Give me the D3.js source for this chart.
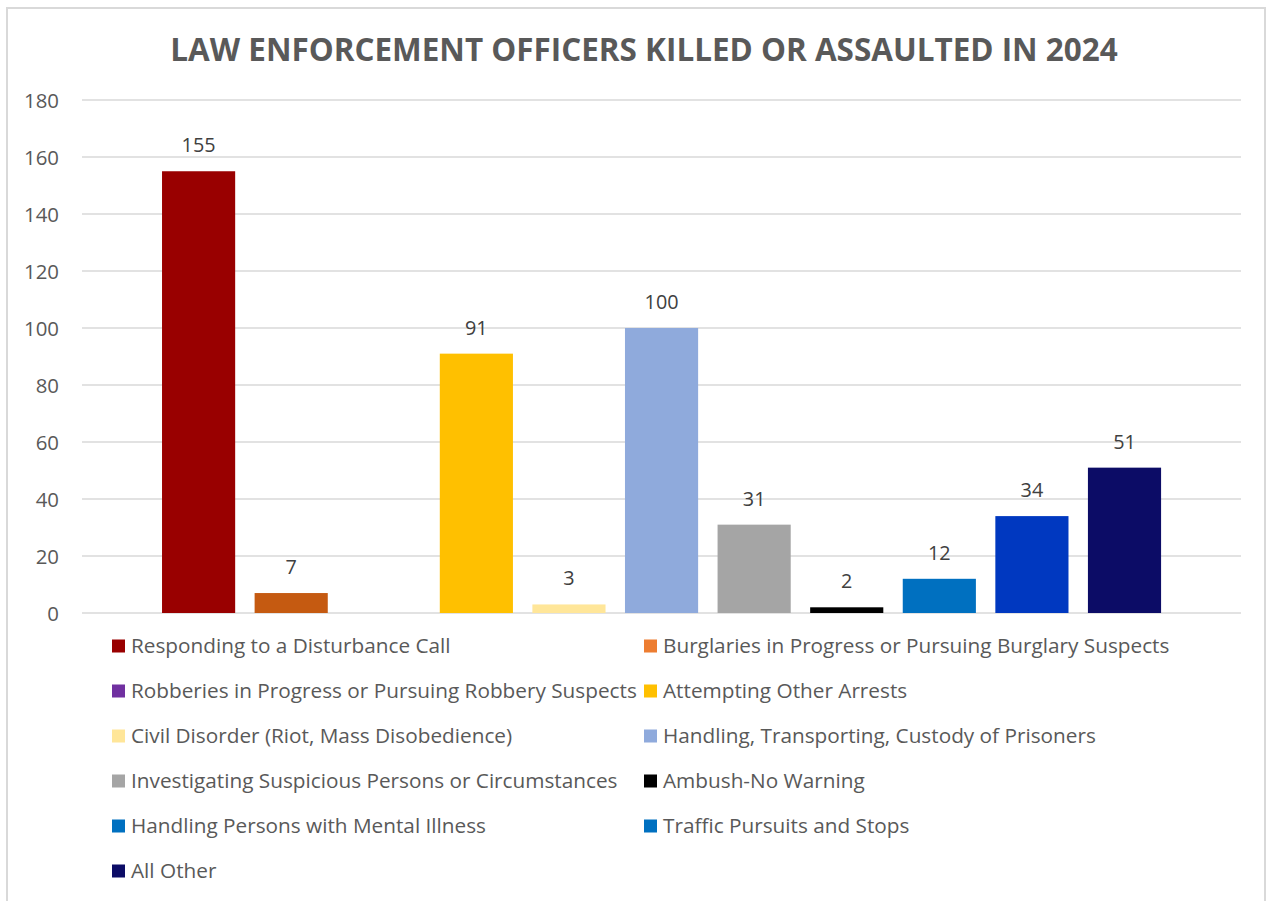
<!DOCTYPE html>
<html>
<head>
<meta charset="utf-8">
<script src="https://cdn.jsdelivr.net/npm/d3@7/dist/d3.min.js"></script>
<style>
  html, body { margin: 0; padding: 0; background: #fff; }
  svg { display: block; }
  text { font-family: "Open Sans", "Noto Sans", sans-serif; }
</style>
</head>
<body>
<svg id="chart" width="1266" height="901"></svg>
<script>
const titleText = "LAW ENFORCEMENT OFFICERS KILLED OR ASSAULTED IN 2024";
const categories = [
  "Responding to a Disturbance Call",
  "Burglaries in Progress or Pursuing Burglary Suspects",
  "Robberies in Progress or Pursuing Robbery Suspects",
  "Attempting Other Arrests",
  "Civil Disorder (Riot, Mass Disobedience)",
  "Handling, Transporting, Custody of Prisoners",
  "Investigating Suspicious Persons or Circumstances",
  "Ambush-No Warning",
  "Handling Persons with Mental Illness",
  "Traffic Pursuits and Stops",
  "All Other"
];
const values = [155, 7, null, 91, 3, 100, 31, 2, 12, 34, 51];
const barColors = ["#990000", "#C55A11", "#7030A0", "#FFC000", "#FFE699", "#8FAADC", "#A5A5A5", "#000000", "#0070C0", "#0038C0", "#0C0C66"];
const legendColors = ["#990000", "#ED7D31", "#7030A0", "#FFC000", "#FFE699", "#8FAADC", "#A5A5A5", "#000000", "#0070C0", "#0070C0", "#0C0C66"];
const yTicks = [0, 20, 40, 60, 80, 100, 120, 140, 160, 180];

const svg = d3.select("#chart");

// outer chart border
svg.append("rect")
  .attr("x", 7).attr("y", 8).attr("width", 1258).attr("height", 900)
  .attr("fill", "#fff").attr("stroke", "#d9d9d9").attr("stroke-width", 2);

// helper: font size so that text reaches a target width
function fitSize(str, target, weight) {
  const t = svg.append("text").attr("font-size", 100).attr("font-weight", weight || "normal").text(str);
  const w = t.node().getComputedTextLength();
  t.remove();
  return 100 * target / w;
}

const plotLeft = 82, plotRight = 1241;
const y = d3.scaleLinear().domain([0, 180]).range([613, 100]);
const x = d3.scaleBand().domain(categories).range([152.3, 1170.8]).paddingInner(0.21).paddingOuter(0.105);

// gridlines
svg.append("g").selectAll("line").data(yTicks).join("line")
  .attr("x1", plotLeft).attr("x2", plotRight)
  .attr("y1", d => y(d)).attr("y2", d => y(d))
  .attr("stroke", "#d9d9d9").attr("stroke-width", 1.3);

// y axis labels
const tickSize = fitSize("180", 35);
const yAxis = d3.axisLeft(y).tickValues(yTicks).tickSize(0).tickPadding(0);
const ga = svg.append("g").attr("transform", "translate(59,0)").call(yAxis);
ga.select(".domain").remove();
ga.selectAll("text")
  .attr("font-family", "'Open Sans', 'Noto Sans', sans-serif")
  .attr("font-size", tickSize).attr("fill", "#595959").attr("dy", "0.36em");

// bars
const data = categories.map((c, i) => ({ c, v: values[i], color: barColors[i] }));
const present = data.filter(d => d.v !== null);
svg.append("g").selectAll("rect").data(present).join("rect")
  .attr("x", d => x(d.c)).attr("width", x.bandwidth())
  .attr("y", d => y(d.v)).attr("height", d => y(0) - y(d.v))
  .attr("fill", d => d.color);

// data labels
const labelSize = fitSize("155", 34);
svg.append("g").selectAll("text").data(present).join("text")
  .attr("x", d => x(d.c) + x.bandwidth() / 2)
  .attr("y", d => y(d.v) - 19)
  .attr("text-anchor", "middle")
  .attr("font-size", labelSize).attr("fill", "#404040")
  .text(d => d.v);

// title
const titleSize = fitSize(titleText, 948, "bold");
svg.append("text")
  .attr("x", 644).attr("y", 50).attr("dy", "0.36em")
  .attr("text-anchor", "middle").attr("font-weight", "bold")
  .attr("font-size", titleSize).attr("fill", "#595959")
  .text(titleText);

// legend
const legSize = fitSize("Robberies in Progress or Pursuing Robbery Suspects", 506);
const colX = [112, 644];
const rowY0 = 646, rowStep = 45;
const leg = svg.append("g").selectAll("g").data(categories).join("g")
  .attr("transform", (d, i) => `translate(${colX[i % 2]},${rowY0 + Math.floor(i / 2) * rowStep})`);
leg.append("rect").attr("x", 0).attr("y", -6.5).attr("width", 13).attr("height", 13)
  .attr("fill", (d, i) => legendColors[i]);
leg.append("text").attr("x", 19).attr("y", 0).attr("dy", "0.36em")
  .attr("font-size", legSize).attr("fill", "#595959")
  .text(d => d);
</script>
</body>
</html>
